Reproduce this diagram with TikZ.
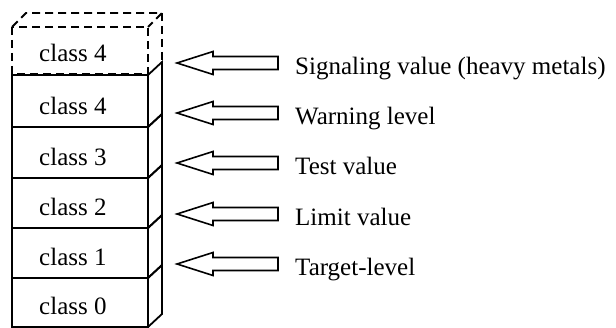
\documentclass[tikz,border=0pt]{standalone}
\usepackage{fontspec}
\setmainfont{Liberation Serif}
\begin{document}
\begin{tikzpicture}[x=1pt,y=-1pt,
  boxline/.style={line width=1.8pt, line join=miter, line cap=rect},
  dashline/.style={line width=1.8pt, dash pattern=on 8pt off 5pt},
  hollowarrow/.style={line width=1.6pt, line join=miter, fill=white},
  classtext/.style={anchor=base west, inner sep=0pt, font=\fontsize{25}{30}\selectfont},
  labeltext/.style={anchor=base west, inner sep=0pt, font=\fontsize{25}{30}\selectfont}]
\useasboundingbox (0,0) rectangle (616,328);
% dashed top box
\draw[dashline] (12,27) rectangle (148,74);
\draw[dashline] (12,27) -- (26,13) -- (162,13) -- (148,27);
\draw[dashline] (162,13) -- (162,62);
\node[classtext] (c5) at (39,62) {class 4};
% solid boxes
\foreach \t/\b/\lab/\nm in {75/127/class 4/c4, 127/178/class 3/c3, 178/228/class 2/c2, 228/278/class 1/c1, 278/327/class 0/c0}{
  \draw[boxline] (12,\t) rectangle (148,\b);
  \draw[boxline] (148,\t) -- (162,\t-13) -- (162,\b-13) -- (148,\b);
  \node[classtext] (\nm) at (39,\b-12) {\lab};
}
% arrows and labels
\foreach \c/\txt/\nm in {63/Signaling value (heavy metals)/l4, 113/Warning level/l3, 163/Test value/l2, 214/Limit value/l1, 264/Target-level/l0}{
  \draw[hollowarrow] (177,\c) -- (213,\c-11.5) -- (213,\c-6.5) -- (278,\c-6.5) -- (278,\c+6.5) -- (213,\c+6.5) -- (213,\c+11.5) -- cycle;
  \node[labeltext] (\nm) at (295,\c+12) {\txt};
}
\end{tikzpicture}
\end{document}
